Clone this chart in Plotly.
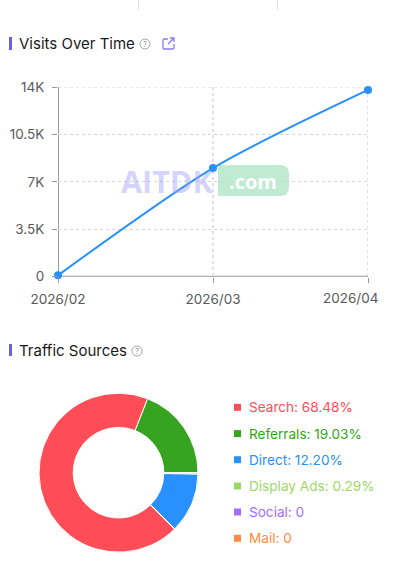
import plotly.graph_objects as go

W, H = 411, 573

# ---- data ----
months = ["2026/02", "2026/03", "2026/04"]
visits = [100, 8020, 13780]
y_ticks = [0, 3500, 7000, 10500, 14000]
y_tick_text = ["0", "3.5K", "7K", "10.5K", "14K"]

sources = ["Search", "Referrals", "Direct", "Display Ads", "Social", "Mail"]
shares = [68.48, 19.03, 12.20, 0.29, 0, 0]
share_text = ["68.48%", "19.03%", "12.20%", "0.29%", "0", "0"]
source_colors = ["#FF4D57", "#36A420", "#2891FF", "#9BD964", "#A66CFF", "#FF8C42"]
ring_order = ["Search", "Referrals", "Display Ads", "Direct", "Social", "Mail"]

FONT = "Inter, 'Liberation Sans', sans-serif"
AXIS = "#999999"
GRID_H = "#D4D4D4"
GRID_V = "#E0E0E0"


def px(x):
    return x / W


def py(y):
    return 1 - y / H


fig = go.Figure()

fig.add_trace(go.Scatter(
    x=months, y=visits, mode="lines+markers",
    line=dict(color="#2891FF", width=2, shape="spline", smoothing=0.8),
    marker=dict(color="#2891FF", size=8),
    cliponaxis=False, showlegend=False, hoverinfo="skip",
))

idx = [sources.index(s) for s in ring_order]
fig.add_trace(go.Pie(
    labels=[sources[i] for i in idx],
    values=[shares[i] for i in idx],
    marker=dict(colors=[source_colors[i] for i in idx],
                line=dict(color="white", width=1)),
    hole=0.57, sort=False, direction="clockwise", rotation=135,
    textinfo="none", showlegend=False, hoverinfo="skip",
    domain=dict(x=[px(39), px(198)], y=[py(552.2), py(393.2)]),
))

shapes = []
annotations = []


def pixel_rect(x0, y0, x1, y1, color):
    shapes.append(dict(type="rect", xref="paper", yref="paper",
                       x0=px(x0), x1=px(x1), y0=py(y0), y1=py(y1),
                       fillcolor=color, line=dict(width=0)))


def label(x, y, text, size, color, anchor="left", family=FONT):
    annotations.append(dict(xref="paper", yref="paper", x=px(x), y=py(y), text=text,
                            showarrow=False, xanchor=anchor, yanchor="middle",
                            font=dict(size=size, color=color, family=family),
                            borderpad=0, borderwidth=0))


def help_icon(cx, cy):
    r = 5
    shapes.append(dict(type="circle", xref="paper", yref="paper",
                       x0=px(cx - r), x1=px(cx + r), y0=py(cy + r), y1=py(cy - r),
                       line=dict(color="#A6A6A6", width=1)))
    label(cx, cy, "?", 8, "#999999", "center")


# top separators
for sx in (138.5, 277.5):
    shapes.append(dict(type="line", xref="paper", yref="paper",
                       x0=px(sx), x1=px(sx), y0=py(0), y1=py(10),
                       line=dict(color="#E5E5E5", width=1)))

# section headers
pixel_rect(9, 37, 12, 50, "#6B5CFF")
label(19, 43.5, "Visits Over Time", 15, "#1A1A1A")
help_icon(145, 44)
pixel_rect(9, 344, 12, 356, "#6B5CFF")
label(19, 350.5, "Traffic Sources", 15, "#1A1A1A")
help_icon(137, 351)

# external link icon
shapes.append(dict(type="path", xref="paper", yref="paper",
                   path=" ".join(f"{c} {px(a)} {py(b)}" for c, a, b in [
                       ("M", 168, 39), ("L", 164, 39), ("L", 163, 40), ("L", 163, 48),
                       ("L", 164, 49), ("L", 173, 49), ("L", 174, 48), ("L", 174, 44)]),
                   line=dict(color="#8C7BFF", width=1.3)))
shapes.append(dict(type="path", xref="paper", yref="paper",
                   path=" ".join(f"{c} {px(a)} {py(b)}" for c, a, b in [
                       ("M", 168, 44), ("L", 174, 38), ("M", 170, 38), ("L", 174, 38), ("L", 174, 42)]),
                   line=dict(color="#8C7BFF", width=1.3)))

# grid lines on the range ends, which the axes leave out
shapes.append(dict(type="line", xref="x", yref="y", layer="below",
                   x0=months[0], x1=months[2], y0=y_ticks[-1], y1=y_ticks[-1],
                   line=dict(color=GRID_H, width=1, dash="3px,3px")))
shapes.append(dict(type="line", xref="x", yref="y", layer="below",
                   x0=months[2], x1=months[2], y0=y_ticks[0], y1=y_ticks[-1],
                   line=dict(color=GRID_V, width=2, dash="3px,3px")))

# axis lines, centred on the first category and on zero
shapes.append(dict(type="line", xref="x", yref="y", layer="below",
                   x0=months[0], x1=months[0], y0=y_ticks[0], y1=y_ticks[-1],
                   line=dict(color=AXIS, width=2)))
shapes.append(dict(type="line", xref="x", yref="y", layer="below",
                   x0=months[0], x1=months[2], y0=y_ticks[0], y1=y_ticks[0],
                   line=dict(color=AXIS, width=2)))

# watermark
wx0, wx1, wy0, wy1, rr = 218, 289, 165, 196, 9
shapes.append(dict(type="path", xref="paper", yref="paper", layer="below",
                   path=(f"M {px(wx0)} {py(wy0)} L {px(wx1 - rr)} {py(wy0)} "
                         f"Q {px(wx1)} {py(wy0)} {px(wx1)} {py(wy0 + rr)} "
                         f"L {px(wx1)} {py(wy1 - rr)} Q {px(wx1)} {py(wy1)} {px(wx1 - rr)} {py(wy1)} "
                         f"L {px(wx0)} {py(wy1)} Z"),
                   fillcolor="#C0EBD3", line=dict(width=0)))
label(121, 181, "<b>AITDK</b>", 30.5, "rgba(160,155,255,0.45)", "left", "Open Sans")
label(252.5, 181, "<b>.com</b>", 20, "#FFFFFF", "center", "Open Sans")

# last x label is pulled back inside the card
annotations.append(dict(xref="x", yref="paper", x=months[2], y=py(298), text=months[2],
                        xshift=-18, showarrow=False, xanchor="center", yanchor="middle",
                        font=dict(size=13.5, color="#595959", family=FONT)))

# legend
row_y = [407.3, 433.6, 459.7, 486, 512, 538.3]
for ry, s, t, c in zip(row_y, sources, share_text, source_colors):
    pixel_rect(234, ry - 3.5, 241, ry + 3.5, c)
    label(248.5, ry, f"{s}: {t}", 13.6, c)

fig.update_layout(
    width=W, height=H, autosize=False,
    margin=dict(l=0, r=0, t=0, b=0),
    paper_bgcolor="white", plot_bgcolor="rgba(0,0,0,0)",
    font=dict(family=FONT, size=13.5, color="#595959"),
    shapes=shapes, annotations=annotations,
    xaxis=dict(
        domain=[px(58), px(368)], type="category", range=[0, 2], automargin=False,
        tickmode="array", tickvals=months, ticktext=[months[0], months[1], ""],
        ticks="outside", ticklen=5, tickwidth=1, tickcolor=AXIS,
        showline=False,
        showgrid=True, gridcolor=GRID_V, griddash="3px,3px", gridwidth=2,
        zeroline=False, ticklabelstandoff=5,
        tickfont=dict(size=13.5, color="#595959", family=FONT),
    ),
    yaxis=dict(
        domain=[py(276.7), py(87)], range=[0, 14000], automargin=False,
        tickmode="array", tickvals=y_ticks, ticktext=y_tick_text,
        ticks="outside", ticklen=5, tickwidth=1, tickcolor=AXIS,
        showline=False,
        showgrid=True, gridcolor=GRID_H, griddash="3px,3px", gridwidth=1,
        zeroline=False, ticklabelstandoff=5,
        tickfont=dict(size=13.5, color="#595959", family=FONT),
    ),
)

fig.write_html("out.html", config=dict(displayModeBar=False),
               post_script="document.body.style.margin='0';")
